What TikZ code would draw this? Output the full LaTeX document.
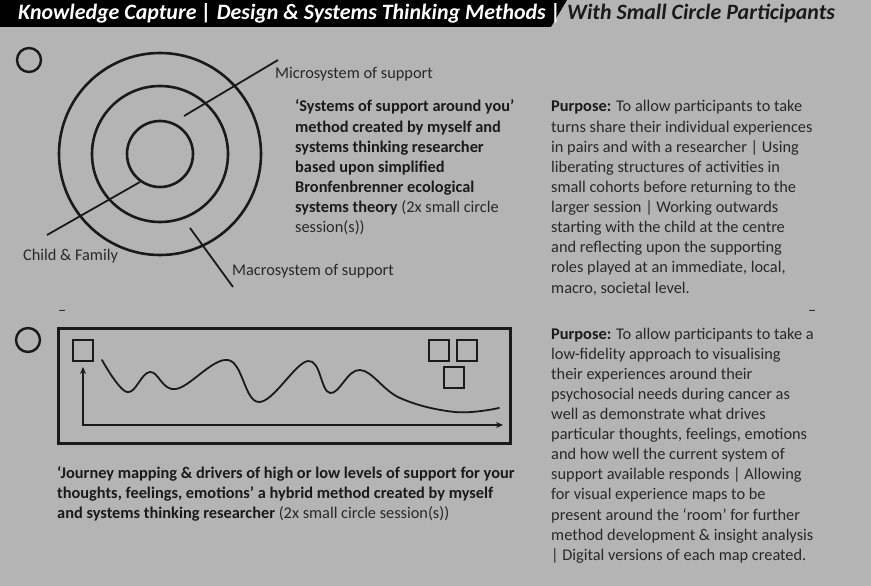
\documentclass[tikz,border=0pt]{standalone}
\usepackage{fontspec}
\setmainfont{Carlito}
\usetikzlibrary{arrows.meta}
\definecolor{sheet}{HTML}{B4B4B4}
\definecolor{ink}{HTML}{1A1A1A}
\definecolor{prose}{HTML}{282828}
\newcommand{\bodysize}{\fontsize{16.4}{20.2}\selectfont}
\newcommand{\textcol}[2]{\parbox[t]{#1}{\raggedright\bodysize #2}}
\tikzset{
  ring/.style={draw=ink, line width=2.6bp},
  leader/.style={draw=ink, line width=1.8bp},
  marker/.style={draw=ink, line width=2.4bp},
  frame/.style={draw=ink, line width=3bp},
  tile/.style={draw=ink, line width=2bp, minimum width=20bp, minimum height=21bp, inner sep=0pt},
  curve/.style={draw=ink, line width=1.8bp, line cap=round},
  axis/.style={draw=ink, line width=1.8bp},
  ringlabel/.style={font=\bodysize, text=prose, inner sep=0pt, anchor=base west},
  prosebox/.style={text=prose, inner sep=0pt, anchor=base west},
  titletext/.style={font=\fontsize{22}{22}\selectfont\bfseries\itshape, inner sep=0pt, anchor=base west}
}

\begin{document}
\begin{tikzpicture}[x=1bp, y=-1bp]
  \useasboundingbox (0,0) rectangle (871,586);
  \fill[sheet] (0,0) rectangle (871,586);

  % Title bar
  \fill[black] (0,0) -- (567,0) -- (551,27) -- (0,27) -- cycle;
  \node[titletext, text=white] (title) at (18,20)
    {Knowledge Capture | Design \& Systems Thinking Methods |};
  \node[titletext, text=ink] (subtitle) at (567,20) {With Small Circle Participants};

  % Section one: rings of support
  \draw[marker] (29,60) circle (12);
  \draw[ring] (160,154) circle (33);
  \draw[ring] (160,154) circle (68);
  \draw[ring] (160,154) circle (101);

  \node[ringlabel] (micro) at (275,79) {Microsystem of support};
  \node[ringlabel] (child) at (23,261) {Child \& Family};
  \node[ringlabel] (macro) at (232,275) {Macrosystem of support};

  \coordinate (microin) at (184,116);
  \coordinate (microout) at (278,60);
  \coordinate (childin) at (140,182);
  \coordinate (childout) at (47,235);
  \coordinate (macroin) at (190,228);
  \coordinate (macroout) at (233,287);
  \draw[leader] (microin) -- (microout);
  \draw[leader] (childin) -- (childout);
  \draw[leader] (macroin) -- (macroout);

  \node[prosebox] (method1) at (295,112) {\textcol{250bp}{%
    \textbf{\color{ink}‘Systems of support around you’\\
    method created by myself and\\
    systems thinking researcher\\
    based upon simplified\\
    Bronfenbrenner ecological\\
    systems theory} (2x small circle\\
    session(s))}};

  \node[prosebox] (purpose1) at (551,112) {\textcol{315bp}{%
    \textbf{\color{ink}Purpose:} To allow participants to take\\
    turns share their individual experiences\\
    in pairs and with a researcher | Using\\
    liberating structures of activities in\\
    small cohorts before returning to the\\
    larger session | Working outwards\\
    starting with the child at the centre\\
    and reflecting upon the supporting\\
    roles played at an immediate, local,\\
    macro, societal level.}};

  \node[prosebox, font=\bodysize] (dashleft) at (58,315) {–};
  \node[prosebox, font=\bodysize] (dashright) at (808,315) {–};

  % Section two: journey map
  \draw[marker] (28,340) circle (12);
  \draw[frame] (58,328) rectangle (510,443);

  \node[tile] (first) at (83,350) {};
  \node[tile] (drvA) at (438.5,350) {};
  \node[tile] (drvB) at (466.5,350) {};
  \node[tile] (drvC) at (454,377) {};

  \coordinate (ytop) at (83,367);
  \coordinate (origin) at (83,425);
  \coordinate (xend) at (503,425);
  \draw[axis, {Stealth[length=7bp, width=6bp]}-{Stealth[length=7bp, width=6bp]}]
    (ytop) -- (origin) -- (xend);

  \draw[curve] plot[smooth, tension=0.65] coordinates {
    (102,360) (127,392) (150,372) (176,389) (228,360) (259,402)
    (308,361) (330,393) (360,370) (400,398) (455,412) (499,408)};

  \node[prosebox] (method2) at (57,478) {\textcol{490bp}{%
    \textbf{\color{ink}‘Journey mapping \& drivers of high or low levels of support for your\\
    thoughts, feelings, emotions’ a hybrid method created by myself\\
    and systems thinking researcher} (2x small circle session(s))}};

  \node[prosebox] (purpose2) at (551,339) {\textcol{315bp}{%
    \textbf{\color{ink}Purpose:} To allow participants to take a\\
    low-fidelity approach to visualising\\
    their experiences around their\\
    psychosocial needs during cancer as\\
    well as demonstrate what drives\\
    particular thoughts, feelings, emotions\\
    and how well the current system of\\
    support available responds | Allowing\\
    for visual experience maps to be\\
    present around the ‘room’ for further\\
    method development \& insight analysis\\
    | Digital versions of each map created.}};
\end{tikzpicture}
\end{document}
